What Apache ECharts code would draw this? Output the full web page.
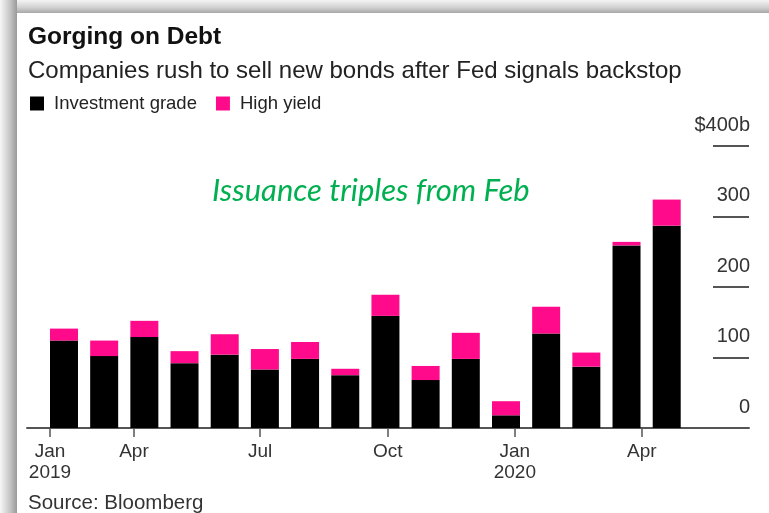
<!DOCTYPE html>
<html>
<head>
<meta charset="utf-8">
<script src="https://cdn.jsdelivr.net/npm/echarts@6/dist/echarts.min.js"></script>
<style>
  html, body { margin: 0; padding: 0; background: #fff; }
  #chart { width: 769px; height: 513px; }
</style>
</head>
<body>
<div id="chart"></div>
<script>
// Monthly US corporate bond issuance, $ billions
const months = ['Jan 2019', 'Feb 2019', 'Mar 2019', 'Apr 2019', 'May 2019', 'Jun 2019',
  'Jul 2019', 'Aug 2019', 'Sep 2019', 'Oct 2019', 'Nov 2019', 'Dec 2019',
  'Jan 2020', 'Feb 2020', 'Mar 2020', 'Apr 2020'];
const investmentGrade = [124, 102, 129, 92, 104, 83, 98, 75, 159, 68, 98, 18, 134, 87, 259, 287];
const highYield = [17, 22, 23, 17, 29, 29, 24, 9, 30, 20, 37, 20, 38, 20, 5, 37];

// Date axis ticks, expressed in month slots (slot 0 = Jan 2019 bar)
const xTickLabels = ['Jan\n2019', 'Apr', 'Jul', 'Oct', 'Jan\n2020', 'Apr'];
const xTickSlots = [-0.35, 1.74, 4.88, 8.06, 11.22, 14.38];

// Value axis labels at 0, 100, 200, 300, 400
const yTickLabels = ['0', '100', '200', '300', '$400b'];

const FONT = '"Liberation Sans", Arial, sans-serif';
const IG_COLOR = '#000000';
const HY_COLOR = '#ff0a8a';

const chart = echarts.init(document.getElementById('chart'), null, { renderer: 'canvas' });

const plotTop = 146;
const plotBottom = 85;

chart.setOption({
  animation: false,
  backgroundColor: '#ffffff',
  title: [
    {
      text: 'Gorging on Debt',
      left: 28, top: 25, padding: 0,
      textStyle: { fontFamily: FONT, fontSize: 24.5, fontWeight: 'bold', color: '#111' }
    },
    {
      text: 'Companies rush to sell new bonds after Fed signals backstop',
      left: 28, top: 59, padding: 0,
      textStyle: { fontFamily: FONT, fontSize: 24, fontWeight: 'normal', color: '#222' }
    },
    {
      text: 'Source: Bloomberg',
      left: 28, top: 493, padding: 0,
      textStyle: { fontFamily: FONT, fontSize: 20.5, fontWeight: 'normal', color: '#333' }
    }
  ],
  legend: {
    left: 30, top: 94, padding: 0,
    icon: 'rect',
    itemWidth: 14, itemHeight: 14,
    itemGap: 19,
    textStyle: { fontFamily: FONT, fontSize: 18.5, color: '#222', padding: [0, 0, 0, 5] },
    data: ['Investment grade', 'High yield']
  },
  grid: [
    // bars
    { left: 43.9, right: 82.2, top: plotTop, bottom: plotBottom, containLabel: false },
    // date axis frame
    { left: 27, right: 20, top: plotTop, bottom: plotBottom, containLabel: false },
    // value axis rules at the right edge
    { left: 713, right: 20, top: plotTop, bottom: plotBottom, containLabel: false }
  ],
  xAxis: [
    {
      gridIndex: 0, type: 'category', data: months,
      axisLine: { show: false }, axisTick: { show: false }, axisLabel: { show: false }
    },
    {
      gridIndex: 1, type: 'value', min: -0.921, max: 17.048,
      splitLine: { show: false },
      axisLine: { show: true, onZero: false, lineStyle: { color: '#555', width: 2 } },
      axisTick: {
        show: true, length: 9, customValues: xTickSlots,
        lineStyle: { color: '#555', width: 1.5 }
      },
      axisLabel: {
        show: true, customValues: xTickSlots, margin: 13,
        fontFamily: FONT, fontSize: 19, lineHeight: 21, color: '#333',
        formatter: function (v) {
          const i = xTickSlots.indexOf(v);
          return i >= 0 ? xTickLabels[i] : '';
        }
      }
    },
    {
      gridIndex: 2, type: 'value', min: 0, max: 1, show: false
    }
  ],
  yAxis: [
    {
      gridIndex: 0, type: 'value', min: 0, max: 400, interval: 100, show: false
    },
    {
      gridIndex: 1, type: 'value', min: 0, max: 400, interval: 100, show: false
    },
    {
      gridIndex: 2, type: 'value', position: 'right', min: 0, max: 400, interval: 100,
      splitLine: { show: true, lineStyle: { color: '#555', width: 2 } },
      axisLine: { show: false },
      axisTick: { show: false },
      axisLabel: {
        inside: true, margin: -1, align: 'right', verticalAlign: 'bottom',
        padding: [0, 0, 11, 0],
        fontFamily: FONT, fontSize: 20, lineHeight: 20, color: '#333',
        formatter: function (v) { return yTickLabels[Math.round(v / 100)]; }
      }
    }
  ],
  series: [
    {
      name: 'Investment grade', type: 'bar', stack: 'issuance',
      xAxisIndex: 0, yAxisIndex: 0,
      barWidth: 28,
      itemStyle: { color: IG_COLOR },
      data: investmentGrade
    },
    {
      name: 'High yield', type: 'bar', stack: 'issuance',
      xAxisIndex: 0, yAxisIndex: 0,
      barWidth: 28,
      itemStyle: { color: HY_COLOR },
      data: highYield
    }
  ],
  graphic: [
    // card shadow, left edge
    {
      type: 'rect', left: 0, top: 0, z: 100,
      shape: { width: 17, height: 513 },
      style: {
        fill: new echarts.graphic.LinearGradient(0, 0, 1, 0, [
          { offset: 0, color: '#f7f7f7' },
          { offset: 0.6, color: '#c4c4c4' },
          { offset: 1, color: '#999999' }
        ])
      }
    },
    // card shadow, top edge
    {
      type: 'rect', left: 0, top: 0, z: 99,
      shape: { width: 769, height: 13 },
      style: {
        fill: new echarts.graphic.LinearGradient(0, 0, 0, 1, [
          { offset: 0, color: '#f4f4f4' },
          { offset: 0.6, color: '#cfcfcf' },
          { offset: 1, color: '#a8a8a8' }
        ])
      }
    },
    {
      type: 'text', left: 212, top: 175, z: 50,
      style: {
        text: 'Issuance triples from Feb',
        fill: '#00b050',
        font: 'italic 31px Lato, "Open Sans", sans-serif'
      }
    }
  ]
});
</script>
</body>
</html>
